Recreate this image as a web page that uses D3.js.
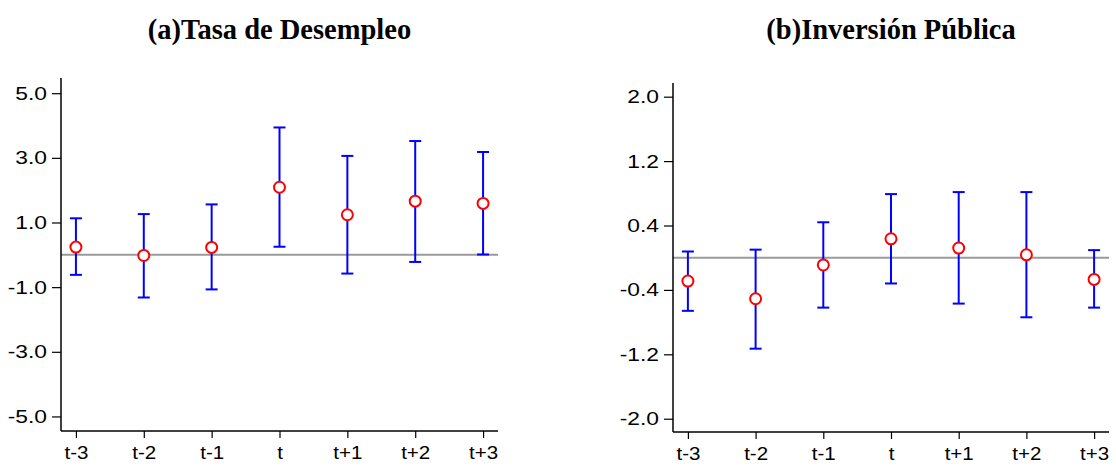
<!DOCTYPE html>
<html>
<head>
<meta charset="utf-8">
<script src="https://cdn.jsdelivr.net/npm/d3@7"></script>
<style>
  body { margin: 0; background: #fff; }
  svg { display: block; }
</style>
</head>
<body>
<svg id="chart" width="1116" height="466"></svg>
<script>
// horizon labels, shared by both panels
var periods = ["t-3", "t-2", "t-1", "t", "t+1", "t+2", "t+3"];

// (a) unemployment rate: point estimate and interval bounds
var desempleoEst = [0.24, -0.02, 0.23, 2.09, 1.24, 1.66, 1.59];
var desempleoLo  = [-0.62, -1.32, -1.07, 0.25, -0.58, -0.22, 0.01];
var desempleoHi  = [1.13, 1.26, 1.56, 3.94, 3.06, 3.52, 3.18];
var desempleoTicks = [5.0, 3.0, 1.0, -1.0, -3.0, -5.0];

// (b) public investment
var inversionEst = [-0.29, -0.51, -0.09, 0.235, 0.12, 0.036, -0.27];
var inversionLo  = [-0.66, -1.13, -0.62, -0.32, -0.57, -0.74, -0.62];
var inversionHi  = [0.077, 0.10, 0.44, 0.79, 0.815, 0.815, 0.094];
var inversionTicks = [2.0, 1.2, 0.4, -0.4, -1.2, -2.0];

var panels = [
  { title: "(a)Tasa de Desempleo", est: desempleoEst, lo: desempleoLo, hi: desempleoHi,
    ticks: desempleoTicks, domain: [-5.45, 5.47], left: 61, right: 498, top: 78, bottom: 431 },
  { title: "(b)Inversión Pública", est: inversionEst, lo: inversionLo, hi: inversionHi,
    ticks: inversionTicks, domain: [-2.165, 2.17], left: 673, right: 1109, top: 83, bottom: 432 }
];

var svg = d3.select("#chart");

// stretch a text horizontally to mimic the wider original glyphs
function widen(sel, k) {
  sel.each(function() {
    d3.select(this)
      .attr("textLength", this.getComputedTextLength() * k)
      .attr("lengthAdjust", "spacingAndGlyphs");
  });
}

panels.forEach(function(p) {
  var g = svg.append("g");

  var x = d3.scalePoint()
    .domain(periods)
    .range([p.left, p.right])
    .padding(0.22);

  var y = d3.scaleLinear()
    .domain(p.domain)
    .range([p.bottom, p.top]);

  var rows = periods.map(function(d, i) {
    return { k: d, est: p.est[i], lo: p.lo[i], hi: p.hi[i] };
  });

  // title (the original serif is a bit narrower)
  var t = g.append("text")
    .attr("x", (p.left + p.right) / 2)
    .attr("y", 39)
    .attr("text-anchor", "middle")
    .style("font-family", "'Liberation Serif', 'Times New Roman', serif")
    .style("font-weight", "bold")
    .style("font-size", "30px")
    .text(p.title);
  widen(t, 0.95);

  // zero line
  g.append("line")
    .attr("x1", p.left).attr("x2", p.right)
    .attr("y1", y(0)).attr("y2", y(0))
    .attr("stroke", "#9a9a9a")
    .attr("stroke-width", 2);

  // y axis (plain hyphen for negatives)
  var ya = g.append("g")
    .attr("transform", "translate(" + p.left + ",0)")
    .call(d3.axisLeft(y).tickValues(p.ticks)
      .tickFormat(function(d) { return d.toFixed(1); })
      .tickSize(9).tickPadding(5).tickSizeOuter(0));

  // x axis
  var xa = g.append("g")
    .attr("transform", "translate(0," + p.bottom + ")")
    .call(d3.axisBottom(x).tickSize(7).tickPadding(8).tickSizeOuter(0));

  [ya, xa].forEach(function(a) {
    a.select(".domain").attr("stroke", "#000").attr("stroke-width", 1.5);
    a.selectAll(".tick line").attr("stroke", "#000").attr("stroke-width", 1.2);
    a.selectAll(".tick text")
      .attr("fill", "#000")
      .style("font-family", "'Liberation Sans', Arial, sans-serif")
      .style("font-size", "19px");
  });
  widen(ya.selectAll(".tick text"), 1.2);
  widen(xa.selectAll(".tick text"), 1.08);
  ya.select(".domain").attr("d", "M0," + p.top + "V" + p.bottom);
  xa.select(".domain").attr("d", "M" + p.left + ",0H" + p.right);

  // error bars
  var bars = g.selectAll(".bar").data(rows).enter().append("g").attr("class", "bar");
  bars.append("line")
    .attr("x1", function(d) { return x(d.k); })
    .attr("x2", function(d) { return x(d.k); })
    .attr("y1", function(d) { return y(d.lo); })
    .attr("y2", function(d) { return y(d.hi); });
  bars.append("line")
    .attr("x1", function(d) { return x(d.k) - 6; })
    .attr("x2", function(d) { return x(d.k) + 6; })
    .attr("y1", function(d) { return y(d.hi); })
    .attr("y2", function(d) { return y(d.hi); });
  bars.append("line")
    .attr("x1", function(d) { return x(d.k) - 6; })
    .attr("x2", function(d) { return x(d.k) + 6; })
    .attr("y1", function(d) { return y(d.lo); })
    .attr("y2", function(d) { return y(d.lo); });
  bars.selectAll("line")
    .attr("stroke", "#0000ff")
    .attr("stroke-width", 2);

  // point estimates
  g.selectAll(".pt").data(rows).enter().append("circle")
    .attr("class", "pt")
    .attr("cx", function(d) { return x(d.k); })
    .attr("cy", function(d) { return y(d.est); })
    .attr("r", 5.5)
    .attr("fill", "#fff")
    .attr("stroke", "#ff0000")
    .attr("stroke-width", 2);
});
</script>
</body>
</html>
